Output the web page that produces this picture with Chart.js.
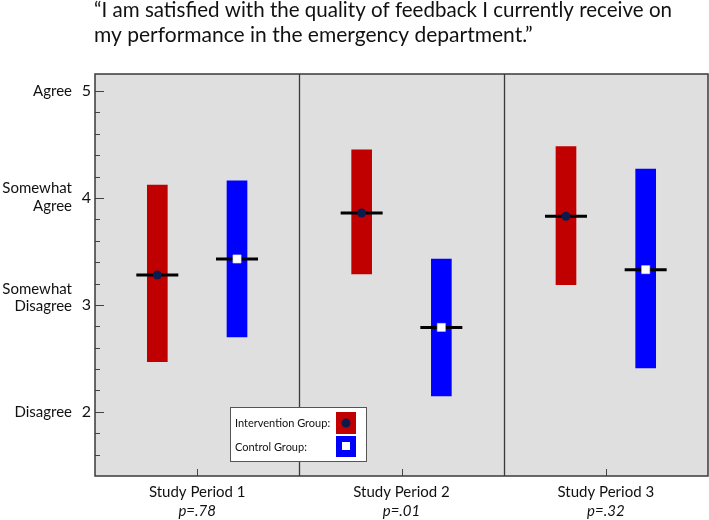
<!DOCTYPE html>
<html>
<head>
<meta charset="utf-8">
<script src="https://cdn.jsdelivr.net/npm/chart.js@4.4.1/dist/chart.umd.min.js"></script>
<style>
  html, body { margin:0; padding:0; background:#fff; overflow:hidden; }
  canvas { display:block; }
</style>
</head>
<body>
<canvas id="grafica" width="709" height="520"></canvas>
<script>
const periods = ['Study Period 1', 'Study Period 2', 'Study Period 3'];
const pValues = ['p=.78', 'p=.01', 'p=.32'];
const periodCenters = [0.5, 1.5, 2.5];
const dividers = [1, 2];

const interventionMean = [3.28, 3.86, 3.83];
const interventionLow  = [2.47, 3.29, 3.19];
const interventionHigh = [4.12, 4.45, 4.48];

const controlMean = [3.43, 2.79, 3.33];
const controlLow  = [2.70, 2.15, 2.41];
const controlHigh = [4.16, 3.43, 4.27];

const yTicks = [2, 3, 4, 5];
const yWords = [['Disagree'], ['Somewhat', 'Disagree'], ['Somewhat', 'Agree'], ['Agree']];
const legendLabels = ['Intervention Group:', 'Control Group:'];

const titleLines = [
  '\u201CI am satisfied with the quality of feedback I currently receive on',
  'my performance in the emergency department.\u201D'
];

const RED = '#c00000';
const BLUE = '#0000ff';
const DOT = '#0d1b4c';
const FONT = 'Lato, "Open Sans", sans-serif';

// posicion dentro de cada periodo: intervencion a la izquierda, control a la derecha
const offsets = [-0.195, 0.195];

function rangeData(k, lows, highs){
  return periodCenters.map((c, i) => ({ x: c + offsets[k], y: [lows[i], highs[i]] }));
}
function pointData(k, means){
  return periodCenters.map((c, i) => ({ x: c + offsets[k], y: means[i] }));
}

const panelPlugin = {
  id: 'panel',
  beforeDraw(chart){
    const { ctx, chartArea: a } = chart;
    ctx.save();
    ctx.fillStyle = '#dfdfdf';
    ctx.fillRect(a.left, a.top, a.right - a.left, a.bottom - a.top);
    ctx.restore();
  },
  beforeDatasetsDraw(chart){
    const { ctx, chartArea: a, scales: { x, y } } = chart;
    ctx.save();
    ctx.strokeStyle = '#3a3a3a';
    ctx.lineWidth = 1.3;
    dividers.forEach(d => {
      const px = Math.round(x.getPixelForValue(d)) + 0.5;
      ctx.beginPath(); ctx.moveTo(px, a.top); ctx.lineTo(px, a.bottom); ctx.stroke();
    });

    // marcas del eje y, hacia adentro
    ctx.lineWidth = 1;
    ctx.strokeStyle = '#444';
    y.ticks.forEach(t => {
      if(t.value > 5.001 || t.value < y.min + 0.001) return;
      const major = Math.abs(t.value - Math.round(t.value)) < 1e-6;
      const py = Math.round(y.getPixelForValue(t.value)) + 0.5;
      ctx.beginPath(); ctx.moveTo(a.left, py); ctx.lineTo(a.left + (major ? 9 : 5), py); ctx.stroke();
    });

    // marcas del eje x
    periodCenters.forEach(c => {
      const px = Math.round(x.getPixelForValue(c)) + 0.5;
      ctx.beginPath(); ctx.moveTo(px, a.bottom); ctx.lineTo(px, a.bottom - 7); ctx.stroke();
    });
    ctx.restore();
  },
  afterDraw(chart){
    const { ctx, chartArea: a, scales: { x, y } } = chart;
    ctx.save();

    ctx.strokeStyle = '#3a3a3a';
    ctx.lineWidth = 1.5;
    ctx.strokeRect(a.left, a.top, a.right - a.left, a.bottom - a.top);

    // titulo
    ctx.fillStyle = '#111';
    ctx.textAlign = 'left';
    ctx.textBaseline = 'alphabetic';
    ctx.font = '21px ' + FONT;
    ctx.fillText(titleLines[0], 94, 17, 578);
    ctx.fillText(titleLines[1], 94, 42);

    // numeros y palabras de la escala
    ctx.textAlign = 'right';
    ctx.textBaseline = 'middle';
    const wordShift = [[0], [-16, 1], [-9.5, 8], [0]];
    yTicks.forEach((v, i) => {
      const py = y.getPixelForValue(v);
      ctx.font = '16px ' + FONT;
      ctx.fillText(String(v), a.left - 4, py);
      ctx.font = '15px ' + FONT;
      yWords[i].forEach((w, j) => ctx.fillText(w, 72, py + wordShift[i][j]));
    });

    // periodos y valores p
    ctx.textAlign = 'center';
    periodCenters.forEach((c, i) => {
      const px = x.getPixelForValue(c);
      ctx.font = '15px ' + FONT;
      ctx.fillText(periods[i], px, 492);
      ctx.font = 'italic 15px ' + FONT;
      ctx.fillText(pValues[i], px, 511);
    });

    // leyenda
    const lx = a.left + 135, ly = a.top + 333;
    ctx.fillStyle = '#fff';
    ctx.fillRect(lx, ly, 136, 54);
    ctx.strokeStyle = '#555';
    ctx.lineWidth = 1;
    ctx.strokeRect(lx + 0.5, ly + 0.5, 136, 54);
    ctx.font = '11px ' + FONT;
    ctx.textAlign = 'left';
    ctx.fillStyle = '#111';
    ctx.fillText(legendLabels[0], lx + 5, ly + 16);
    ctx.fillText(legendLabels[1], lx + 5, ly + 40);
    ctx.fillStyle = RED;
    ctx.fillRect(lx + 106, ly + 5, 20, 22);
    ctx.fillStyle = BLUE;
    ctx.fillRect(lx + 106, ly + 29, 20, 21);
    ctx.fillStyle = DOT;
    ctx.beginPath(); ctx.arc(lx + 116, ly + 16, 4.5, 0, Math.PI * 2); ctx.fill();
    ctx.fillStyle = '#fff';
    ctx.fillRect(lx + 112, ly + 35, 8, 8);
    ctx.restore();
  }
};

const ctx = document.getElementById('grafica');
new Chart(ctx, {
  type: 'bar',
  data: {
    datasets: [
      {
        type: 'scatter',
        data: pointData(0, interventionMean),
        pointStyle: 'circle',
        pointRadius: 4.5,
        backgroundColor: DOT,
        borderColor: DOT,
        borderWidth: 0,
        order: 0
      },
      {
        type: 'scatter',
        data: pointData(1, controlMean),
        pointStyle: 'rect',
        pointRadius: 5.8,
        backgroundColor: '#ffffff',
        borderColor: '#cfcfcf',
        borderWidth: 0.5,
        order: 0
      },
      {
        type: 'scatter',
        data: pointData(0, interventionMean).concat(pointData(1, controlMean)),
        pointStyle: 'line',
        pointRadius: 21,
        borderColor: '#000',
        borderWidth: 3,
        order: 1
      },
      {
        type: 'bar',
        data: rangeData(0, interventionLow, interventionHigh),
        backgroundColor: RED,
        barThickness: 20,
        grouped: false,
        order: 2
      },
      {
        type: 'bar',
        data: rangeData(1, controlLow, controlHigh),
        backgroundColor: BLUE,
        barThickness: 20,
        grouped: false,
        order: 2
      }
    ]
  },
  options: {
    responsive: false,
    animation: false,
    devicePixelRatio: 1,
    // el area del panel queda en 95..708 x 74..476
    layout: { autoPadding: false, padding: { top: 74, right: 1, left: 95, bottom: 44 } },
    plugins: { legend: { display: false }, tooltip: { enabled: false } },
    scales: {
      x: {
        type: 'linear',
        min: 0,
        max: 3,
        offset: false,
        grid: { display: false, drawTicks: false },
        border: { display: false },
        ticks: { display: false }
      },
      y: {
        min: 1.4,
        max: 5.16,
        grid: { display: false, drawTicks: false },
        border: { display: false },
        ticks: { display: false, stepSize: 0.2, includeBounds: false }
      }
    }
  },
  plugins: [panelPlugin]
});
</script>
</body>
</html>
